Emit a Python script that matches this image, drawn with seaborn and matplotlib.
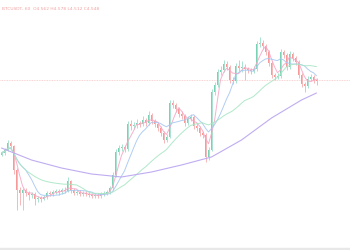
import numpy as np
import pandas as pd
import matplotlib
matplotlib.use("Agg")
import matplotlib.pyplot as plt
import seaborn as sns

# ---- data ----
closes = [97, 100, 107, 104, 80, 60, 57, 60, 57, 55, 56, 51, 52, 51, 53, 57, 56, 58, 59, 58,
          60, 59, 69, 60, 57, 58, 56, 57, 56, 55, 54, 55, 54, 56, 57, 58, 62, 75, 98, 102,
          103, 101, 126, 124, 125, 127, 126, 130, 127, 135, 129, 126, 122, 117, 110, 113, 147, 145, 141, 136,
          134, 127, 131, 133, 124, 122, 117, 115, 93, 100, 158, 165, 178, 180, 186, 183, 170, 169, 184, 182,
          183, 181, 180, 179, 181, 206, 207, 204, 198, 187, 175, 173, 174, 198, 195, 183, 196, 192, 188, 175,
          166, 164, 171, 173, 170, 169]
first_open = 95
highs = [99, 102, 110, 109, 105, 82, 63, 62, 62, 59, 58, 58, 54, 54, 55, 59, 59, 60, 61, 61,
         62, 63, 73, 70, 62, 60, 60, 59, 59, 58, 57, 57, 57, 58, 59, 60, 64, 78, 101, 105,
         106, 105, 129, 130, 128, 131, 129, 134, 132, 139, 137, 131, 128, 124, 119, 116, 150, 150, 147, 143,
         139, 136, 134, 136, 135, 127, 124, 119, 117, 103, 161, 168, 181, 184, 190, 189, 185, 173, 187, 190,
         189, 186, 183, 182, 184, 209, 213, 210, 206, 200, 189, 177, 177, 201, 200, 197, 199, 198, 194, 190,
         177, 168, 174, 176, 175, 172]
lows = [94, 95, 99, 102, 76, 40, 45, 40, 54, 50, 52, 45, 48, 48, 50, 51, 54, 54, 56, 55,
        56, 57, 58, 57, 55, 55, 54, 54, 54, 53, 52, 52, 52, 52, 54, 55, 56, 60, 73, 95,
        99, 98, 99, 120, 121, 122, 123, 124, 124, 125, 126, 123, 119, 114, 107, 108, 112, 142, 138, 133,
        131, 124, 125, 129, 121, 119, 114, 112, 88, 90, 99, 155, 163, 175, 178, 180, 167, 166, 167, 179,
        178, 170, 177, 176, 177, 179, 203, 201, 195, 184, 172, 170, 171, 172, 192, 180, 181, 189, 185, 172,
        163, 158, 162, 169, 167, 165]
# long moving average, read every 10 candles (index, value)
long_ma_idx = [0, 10, 20, 30, 40, 50, 60, 70, 80, 90, 100, 105]
long_ma_val = [102, 90, 82, 76, 73, 78, 85, 93, 110, 132, 150, 157]
last_price = 170
title_text = "BTCUSDT, 60  O4.562 H4.578 L4.512 C4.548"

# ---- frame ----
n = len(closes)
idx = np.arange(n)
opens = [first_open] + closes[:-1]
df = pd.DataFrame({"i": idx, "open": opens, "high": highs, "low": lows, "close": closes})
df["ma_fast"] = df["close"].rolling(4, min_periods=1).mean()
df["ma_mid"] = df["close"].rolling(9, min_periods=1).mean()
df["ma_slow"] = df["close"].rolling(26, min_periods=1).mean()
long_df = pd.DataFrame({"i": long_ma_idx, "v": long_ma_val})

sns.set_theme(style="white")
fig = plt.figure(figsize=(3.5, 2.5), dpi=100)
fig.patch.set_facecolor("white")
ax = fig.add_axes([0, 0, 1, 1])
ax.set_facecolor("white")

up = df["close"] >= df["open"]
green = "#4cc49b"
red = "#f27777"
colors = np.where(up, green, red)
wick_colors = np.where(up, "#a8e3ce", "#f6b8b8")

ax.vlines(df["i"], df["low"], df["high"], colors=wick_colors, linewidth=0.7, zorder=2)
bottoms = np.minimum(df["open"], df["close"])
heights = np.maximum(np.abs(df["close"] - df["open"]), 0.8)
ax.bar(df["i"], heights, bottom=bottoms, width=0.65, color=colors, alpha=0.75,
       linewidth=0, zorder=3)

sns.lineplot(data=df, x="i", y="ma_fast", ax=ax, color="#f7a8c8", linewidth=0.7, alpha=0.9, zorder=4)
sns.lineplot(data=df, x="i", y="ma_mid", ax=ax, color="#a8c8f2", linewidth=0.7, alpha=0.9, zorder=4)
sns.lineplot(data=df, x="i", y="ma_slow", ax=ax, color="#a8e6c4", linewidth=0.7, alpha=0.9, zorder=4)
sns.lineplot(data=long_df, x="i", y="v", ax=ax, color="#bca8f0", linewidth=0.8, alpha=0.95, zorder=4)

ax.axhline(last_price, color="#f8c4c4", linewidth=0.6, linestyle=(0, (1, 1)), zorder=1)

ax.set_xlim(-0.5, -0.5 + 350 / 3)
ax.set_ylim(0, 250)
ax.axhspan(0, 2.5, color="#e8e8e8", zorder=5)
ax.set_xticks([])
ax.set_yticks([])
ax.set_xlabel("")
ax.set_ylabel("")
for s in ax.spines.values():
    s.set_visible(False)

fig.text(0.005, 0.965, title_text, fontsize=3.2, color="#f08a8a", alpha=0.8,
         ha="left", va="center", family="DejaVu Sans")

fig.savefig("out.png", dpi=100, facecolor="white")
